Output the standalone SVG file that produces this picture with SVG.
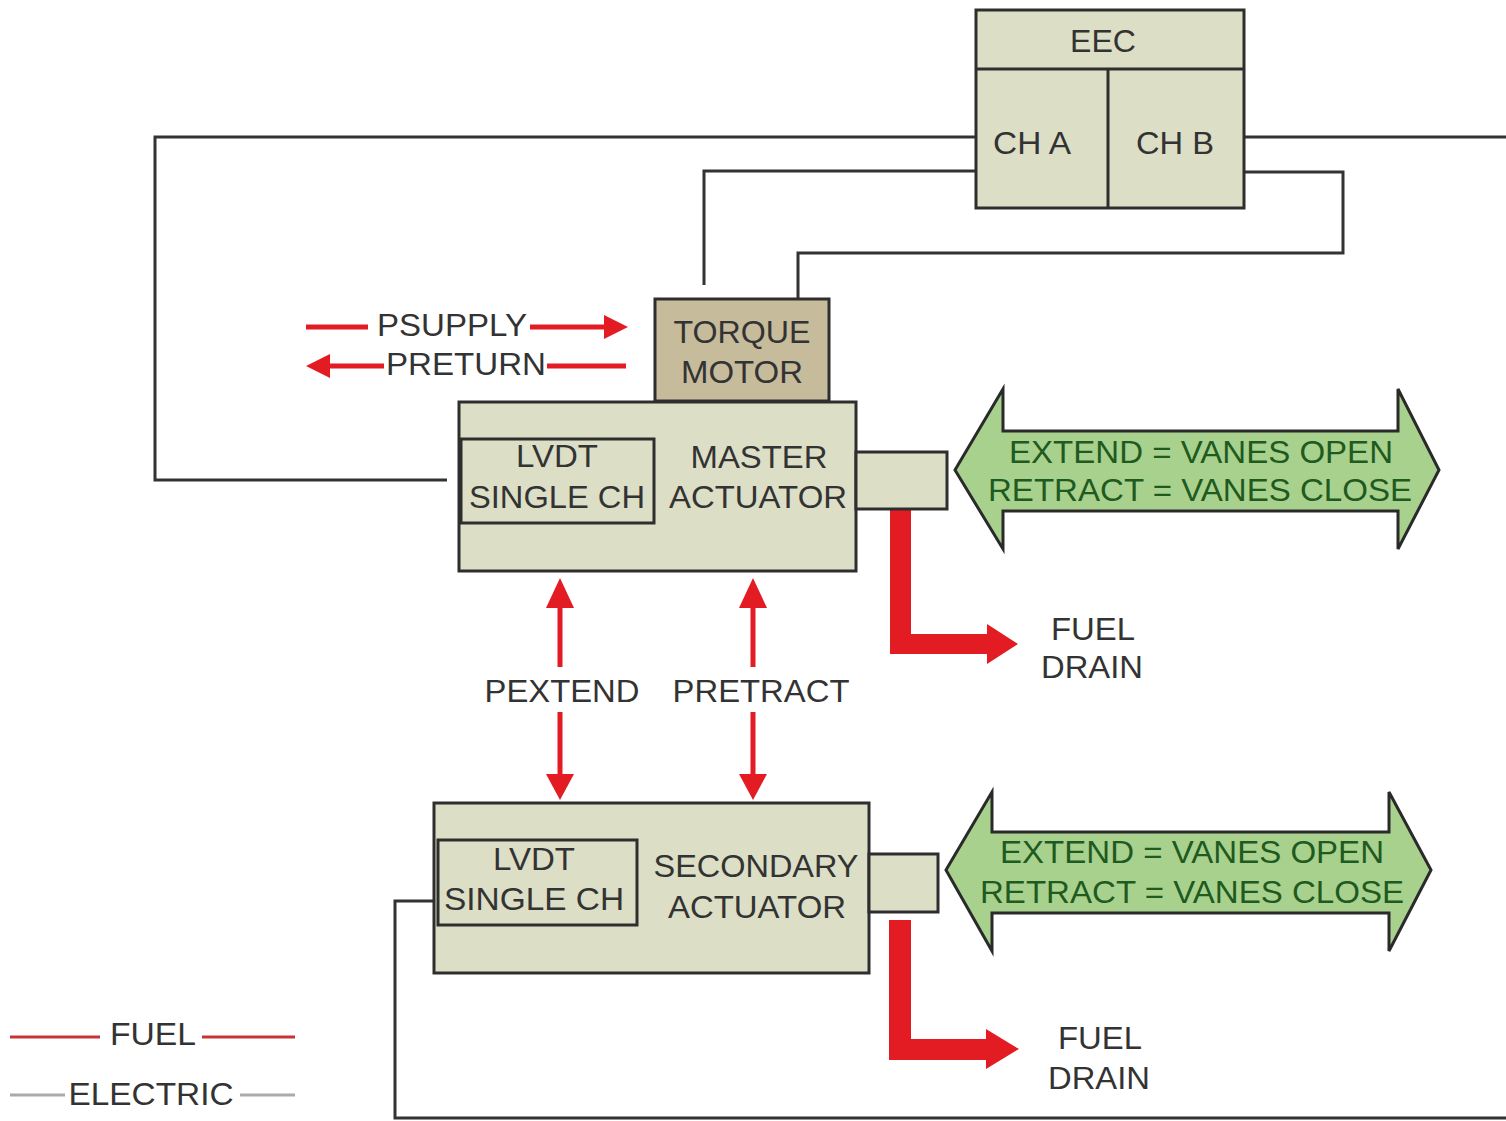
<svg xmlns="http://www.w3.org/2000/svg" width="1506" height="1121" viewBox="0 0 1506 1121">
<defs>
<style>
.box{fill:#dcdfc6;stroke:#2e2e2e;stroke-width:3}
.tm{fill:#c6bc9b;stroke:#2e2e2e;stroke-width:3}
.wire{fill:none;stroke:#333;stroke-width:3}
.fuel{fill:none;stroke:#e31b23;stroke-width:5}
.red{fill:#e31b23}
.green{fill:#a9d18e;stroke:#2a2a2a;stroke-width:3;stroke-linejoin:miter}
text{font-family:"Liberation Sans",Arial,sans-serif;font-size:32px;fill:#333;text-anchor:middle}
.gt{fill:#1f5a1f}
</style>
</defs>
<rect width="1506" height="1121" fill="#fff"/>

<g id="connectors">
<path class="wire" d="M976,137 H155 V480 H447"/>
<path class="wire" d="M976,171 H704 V285"/>
<path class="wire" d="M1244,137 H1506"/>
<path class="wire" d="M1244,172 H1343 V253 H798 V298"/>
<path class="wire" d="M436,901 H395 V1118 H1506"/>
<path class="fuel" d="M306,327 H368 M530,327 H606"/>
<polygon class="red" points="604,315 628,327 604,339"/>
<path class="fuel" d="M326,366 H384 M547,366 H626"/>
<polygon class="red" points="330,354 306,366 330,378"/>
<path class="fuel" d="M560,604 V667 M560,712 V778"/>
<polygon class="red" points="546,608 560,578 574,608"/>
<polygon class="red" points="546,774 560,800 574,774"/>
<path class="fuel" d="M753,604 V667 M753,712 V778"/>
<polygon class="red" points="739,608 753,578 767,608"/>
<polygon class="red" points="739,774 753,800 767,774"/>
<polygon class="red" points="890,510 911,510 911,634 987,634 987,624 1018,644 987,664 987,654 890,654"/>
<polygon class="red" points="889,920 911,920 911,1039 986,1039 986,1029 1019,1049 986,1069 986,1060 889,1060"/>
</g>

<g id="eec">
<rect class="box" x="976" y="10" width="268" height="198"/>
<line x1="976" y1="69" x2="1244" y2="69" stroke="#2e2e2e" stroke-width="3"/>
<line x1="1108" y1="69" x2="1108" y2="208" stroke="#2e2e2e" stroke-width="3"/>
<text x="1103" y="52" textLength="66" lengthAdjust="spacingAndGlyphs">EEC</text>
<text x="1032" y="154" textLength="78" lengthAdjust="spacingAndGlyphs">CH A</text>
<text x="1175" y="154" textLength="78" lengthAdjust="spacingAndGlyphs">CH B</text>
</g>

<g id="torque-motor">
<rect class="tm" x="655" y="299" width="174" height="102"/>
<text x="742" y="343" textLength="137" lengthAdjust="spacingAndGlyphs">TORQUE</text>
<text x="742" y="383" textLength="122" lengthAdjust="spacingAndGlyphs">MOTOR</text>
</g>

<g id="master-actuator">
<rect class="box" x="459" y="402" width="397" height="169"/>
<rect class="box" x="461" y="439" width="193" height="84"/>
<rect class="box" x="856" y="452" width="91" height="57"/>
<text x="557" y="467" textLength="82" lengthAdjust="spacingAndGlyphs">LVDT</text>
<text x="557" y="508" textLength="176" lengthAdjust="spacingAndGlyphs">SINGLE CH</text>
<text x="759" y="468" textLength="137" lengthAdjust="spacingAndGlyphs">MASTER</text>
<text x="758" y="508" textLength="178" lengthAdjust="spacingAndGlyphs">ACTUATOR</text>
</g>

<g id="secondary-actuator">
<rect class="box" x="434" y="803" width="435" height="170"/>
<rect class="box" x="438" y="840" width="199" height="85"/>
<rect class="box" x="869" y="854" width="69" height="58"/>
<text x="534" y="870" textLength="82" lengthAdjust="spacingAndGlyphs">LVDT</text>
<text x="534" y="910" textLength="180" lengthAdjust="spacingAndGlyphs">SINGLE CH</text>
<text x="756" y="877" textLength="205" lengthAdjust="spacingAndGlyphs">SECONDARY</text>
<text x="757" y="918" textLength="178" lengthAdjust="spacingAndGlyphs">ACTUATOR</text>
</g>

<g id="master-motion">
<polygon class="green" points="955,470 1003,389 1003,431 1398,431 1398,389 1439,470 1398,549 1398,511 1003,511 1003,549"/>
<text class="gt" x="1201" y="463" textLength="384" lengthAdjust="spacingAndGlyphs">EXTEND = VANES OPEN</text>
<text class="gt" x="1200" y="501" textLength="424" lengthAdjust="spacingAndGlyphs">RETRACT = VANES CLOSE</text>
</g>

<g id="secondary-motion">
<polygon class="green" points="946,870 992,792 992,832 1389,832 1389,792 1431,870 1389,951 1389,913 992,913 992,951"/>
<text class="gt" x="1192" y="863" textLength="384" lengthAdjust="spacingAndGlyphs">EXTEND = VANES OPEN</text>
<text class="gt" x="1192" y="903" textLength="424" lengthAdjust="spacingAndGlyphs">RETRACT = VANES CLOSE</text>
</g>

<g id="labels">
<text x="452" y="336" textLength="150" lengthAdjust="spacingAndGlyphs">PSUPPLY</text>
<text x="466" y="375" textLength="160" lengthAdjust="spacingAndGlyphs">PRETURN</text>
<text x="562" y="702" textLength="155" lengthAdjust="spacingAndGlyphs">PEXTEND</text>
<text x="761" y="702" textLength="177" lengthAdjust="spacingAndGlyphs">PRETRACT</text>
<text x="1093" y="640" textLength="84" lengthAdjust="spacingAndGlyphs">FUEL</text>
<text x="1092" y="678" textLength="102" lengthAdjust="spacingAndGlyphs">DRAIN</text>
<text x="1100" y="1049" textLength="84" lengthAdjust="spacingAndGlyphs">FUEL</text>
<text x="1099" y="1089" textLength="102" lengthAdjust="spacingAndGlyphs">DRAIN</text>
</g>

<g id="legend">
<line x1="10" y1="1037" x2="100" y2="1037" stroke="#c8323a" stroke-width="3"/>
<line x1="202" y1="1037" x2="295" y2="1037" stroke="#c8323a" stroke-width="3"/>
<text x="153" y="1045" textLength="86" lengthAdjust="spacingAndGlyphs">FUEL</text>
<line x1="10" y1="1095" x2="65" y2="1095" stroke="#aaa" stroke-width="3"/>
<line x1="240" y1="1095" x2="295" y2="1095" stroke="#aaa" stroke-width="3"/>
<text x="151" y="1105" textLength="165" lengthAdjust="spacingAndGlyphs">ELECTRIC</text>
</g>
</svg>
